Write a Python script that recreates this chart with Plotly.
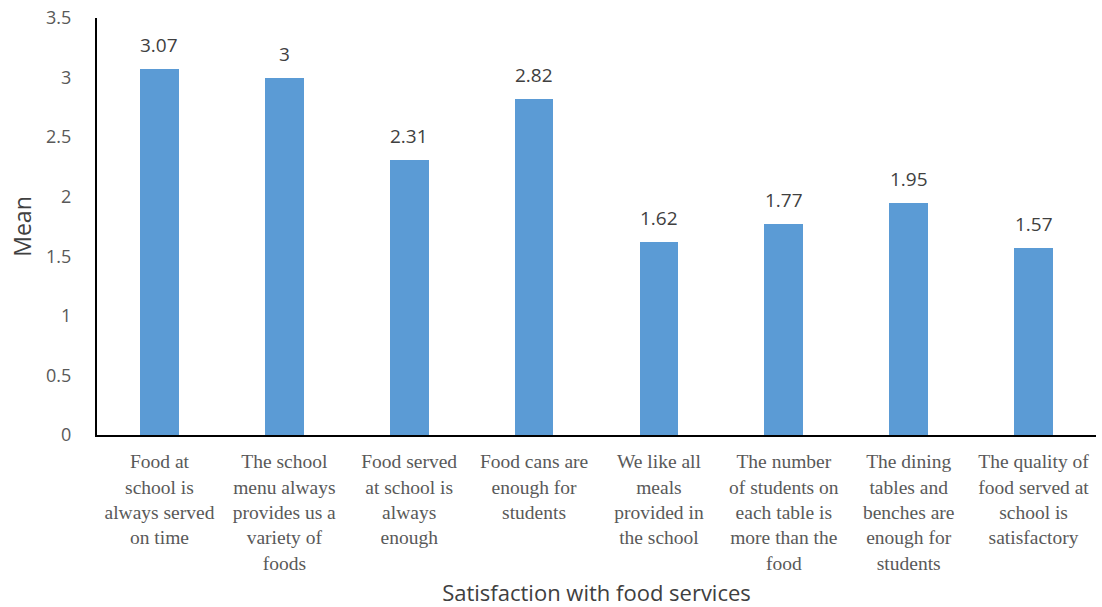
import plotly.graph_objects as go

categories = [
    "Food at<br>school is<br>always served<br>on time",
    "The school<br>menu always<br>provides us a<br>variety of<br>foods",
    "Food served<br>at school is<br>always<br>enough",
    "Food cans are<br>enough for<br>students",
    "We like all<br>meals<br>provided in<br>the school",
    "The number<br>of students on<br>each table is<br>more than the<br>food",
    "The dining<br>tables and<br>benches are<br>enough for<br>students",
    "The quality of<br>food served at<br>school is<br>satisfactory",
]
means = [3.07, 3.0, 2.31, 2.82, 1.62, 1.77, 1.95, 1.57]
labels = ["3.07", "3", "2.31", "2.82", "1.62", "1.77", "1.95", "1.57"]
y_ticks = [0, 0.5, 1, 1.5, 2, 2.5, 3, 3.5]
y_tick_text = ["0", "0.5", "1", "1.5", "2", "2.5", "3", "3.5"]

xs = list(range(len(categories)))

fig = go.Figure()
fig.add_trace(go.Bar(
    x=xs, y=means, marker=dict(color="#5B9BD5", line=dict(width=0)),
    width=0.31, hoverinfo="skip",
))

for x, y, t in zip(xs, means, labels):
    fig.add_annotation(x=x, y=y, text=t, showarrow=False, yanchor="bottom",
                       yshift=9, font=dict(family="Open Sans, Liberation Sans", size=19, color="#404040"))

fig.update_layout(
    width=1102, height=607,
    margin=dict(l=97, r=6, t=18, b=172),
    paper_bgcolor="white", plot_bgcolor="white",
    showlegend=False, bargap=0,
    xaxis=dict(
        range=[-0.5, 7.5], tickvals=xs, ticktext=categories, automargin=False,
        showline=True, linecolor="black", linewidth=2,
        showgrid=False, zeroline=False, ticks="", ticklabelstandoff=8,
        tickfont=dict(family="Liberation Serif", size=19.5, color="#595959"),
        title=dict(text="Satisfaction with food services", standoff=14,
                   font=dict(family="Open Sans, Liberation Sans", size=22, color="#404040")),
    ),
    yaxis=dict(
        range=[0, 3.5], tickvals=y_ticks, ticktext=y_tick_text, automargin=False,
        showline=True, linecolor="black", linewidth=2,
        showgrid=False, zeroline=False, ticks="outside", ticklen=20, tickcolor="white",
        tickfont=dict(family="Open Sans, Liberation Sans", size=18, color="#595959"),
        title=dict(text="Mean", standoff=8,
                   font=dict(family="Open Sans, Liberation Sans", size=23, color="#404040")),
    ),
)

fig.write_html("out.html")
